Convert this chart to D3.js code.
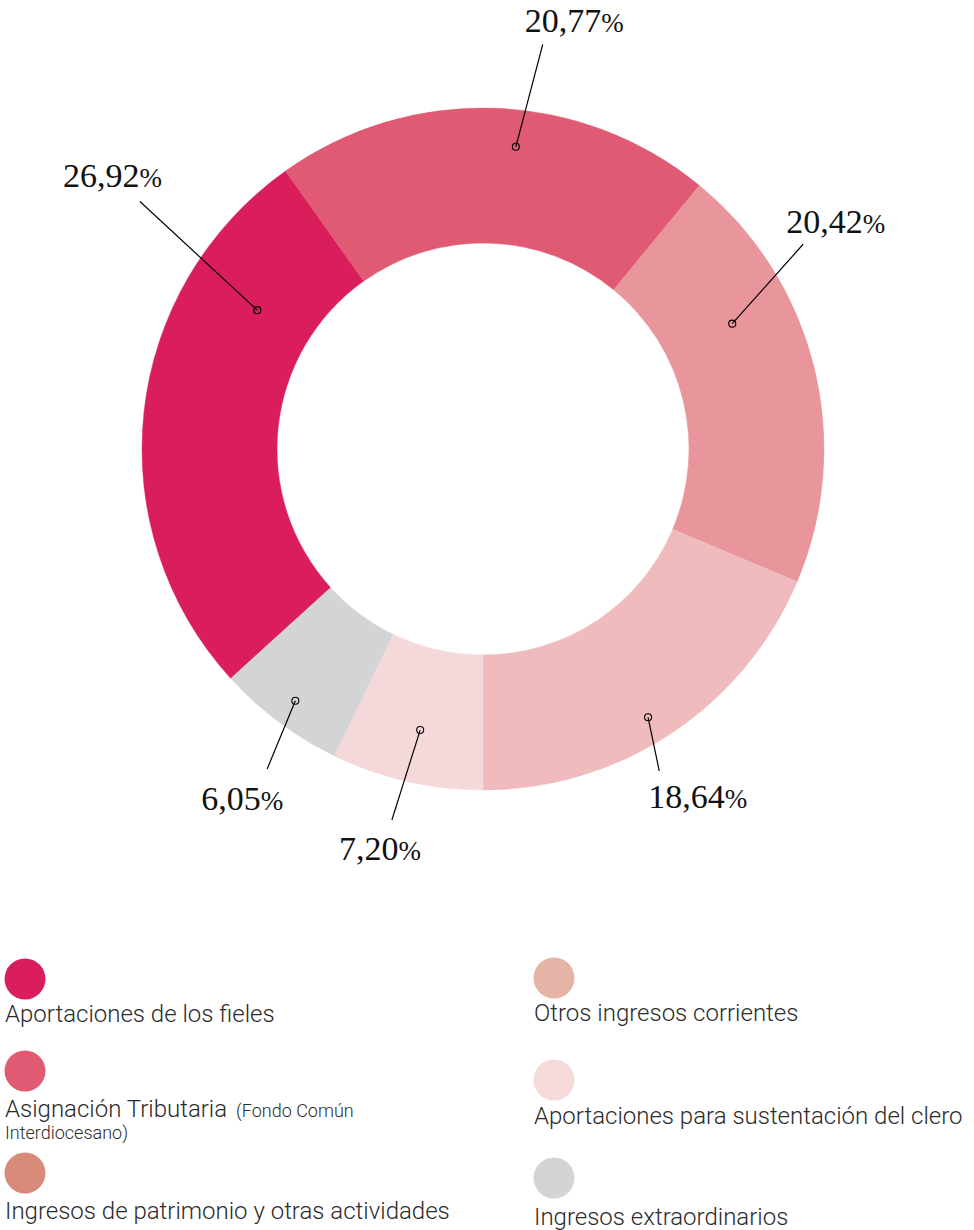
<!DOCTYPE html>
<html>
<head>
<meta charset="utf-8">
<script src="https://cdn.jsdelivr.net/npm/d3@7"></script>
<style>
  body { margin: 0; background: #fff; }
  .pct { font-family: "Liberation Serif", "DejaVu Serif", serif; fill: #111; }
  .legend text { font-family: Roboto, "Noto Sans", sans-serif; font-weight: 300; fill: #2b2b2b; }
</style>
</head>
<body>
<div id="chart"></div>
<script>
// categories in legend order
let categories = [
    "Aportaciones de los fieles",
    "Asignación Tributaria",
    "Ingresos de patrimonio y otras actividades",
    "Otros ingresos corrientes",
    "Aportaciones para sustentación del clero",
    "Ingresos extraordinarios"
];
let values = [26.92, 20.77, 20.42, 18.64, 7.20, 6.05];
let labels = ["26,92", "20,77", "20,42", "18,64", "7,20", "6,05"];
let sliceColors = ["#da1e5c", "#e05a73", "#e8959b", "#efbbbd", "#f5d9da", "#d3d4d6"];
let legendColors = ["#da1e5c", "#e05a73", "#d98b7a", "#e6b4a6", "#f6dadb", "#d3d4d6"];

class Donut {
    constructor() {
        this.width = 974;
        this.height = 1230;
        this.cx = 483;
        this.cy = 449;
        this.outerR = 341;
        this.innerR = 206;

        // leader-line layout per slice: dot angle/radius, end angle/radius, text offset
        this.leaders = [
            {dotA: 301.6, dotR: 265, endA: 305.8, endR: 423, dx: -77, dy: -15},
            {dotA: 6.2, dotR: 304, endA: 8.4, endR: 409, dx: -18, dy: -12},
            {dotA: 63.3, dotR: 279, endA: 57.4, endR: 380, dx: -17, dy: -11},
            {dotA: 148.4, dotR: 315, endA: 151.3, endR: 367, dx: -11, dy: 37},
            {dotA: 192.6, dotR: 288, endA: 193.8, endR: 382, dx: -53, dy: 40},
            {dotA: 216.7, dotR: 314, endA: 214.0, endR: 386, dx: -66, dy: 41}
        ];

        this.svg = d3.select("#chart").append("svg")
            .attr("width", this.width)
            .attr("height", this.height);
    }

    draw() {
        let total = d3.sum(values);
        // last two slices sit between 6 o'clock and the first one
        let start = Math.PI + 2 * Math.PI * (values[4] + values[5]) / total;

        let pie = d3.pie()
            .sort(null)
            .startAngle(start)
            .endAngle(start + 2 * Math.PI);

        let arc = d3.arc()
            .innerRadius(this.innerR)
            .outerRadius(this.outerR);

        let g = this.svg.append("g")
            .attr("transform", `translate(${this.cx},${this.cy})`);

        g.selectAll("path")
            .data(pie(values))
            .enter().append("path")
            .attr("d", arc)
            .attr("fill", (d, i) => sliceColors[i])
            .attr("stroke", (d, i) => sliceColors[i])
            .attr("stroke-width", 0.5);

        let rad = (deg) => deg * Math.PI / 180;
        let dotPt = (i) => d3.pointRadial(rad(this.leaders[i].dotA), this.leaders[i].dotR);
        let endPt = (i) => d3.pointRadial(rad(this.leaders[i].endA), this.leaders[i].endR);

        //LEADERS------------------------------------------------------------
        let lead = g.selectAll(".lead")
            .data(values)
            .enter().append("g")
            .attr("class", "lead");

        lead.append("line")
            .attr("x1", (d, i) => dotPt(i)[0])
            .attr("y1", (d, i) => dotPt(i)[1])
            .attr("x2", (d, i) => endPt(i)[0])
            .attr("y2", (d, i) => endPt(i)[1])
            .attr("stroke", "#000")
            .attr("stroke-width", 1.2);

        lead.append("circle")
            .attr("cx", (d, i) => dotPt(i)[0])
            .attr("cy", (d, i) => dotPt(i)[1])
            .attr("r", 3.5)
            .attr("fill", "none")
            .attr("stroke", "#000")
            .attr("stroke-width", 1.1);

        let txt = lead.append("text")
            .attr("class", "pct")
            .attr("x", (d, i) => endPt(i)[0] + this.leaders[i].dx)
            .attr("y", (d, i) => endPt(i)[1] + this.leaders[i].dy);

        txt.append("tspan")
            .style("font-size", "34px")
            .text((d, i) => labels[i]);
        txt.append("tspan")
            .style("font-size", "27px")
            .text("%");

        //LEGEND-------------------------------------------------------------
        let legendPos = [
            {x: 5, cy: 979, ty: 1022},
            {x: 5, cy: 1071, ty: 1117},
            {x: 5, cy: 1173, ty: 1219},
            {x: 534, cy: 978, ty: 1021},
            {x: 534, cy: 1080, ty: 1124},
            {x: 534, cy: 1178, ty: 1225}
        ];

        let leg = this.svg.append("g").attr("class", "legend")
            .selectAll("g")
            .data(categories)
            .enter().append("g");

        leg.append("circle")
            .attr("cx", (d, i) => legendPos[i].x + 20)
            .attr("cy", (d, i) => legendPos[i].cy)
            .attr("r", 20.5)
            .attr("fill", (d, i) => legendColors[i]);

        leg.append("text")
            .attr("x", (d, i) => legendPos[i].x)
            .attr("y", (d, i) => legendPos[i].ty)
            .style("font-size", "24px")
            .text(d => d);

        // the note after "Asignación Tributaria" wraps on two lines
        let note = this.svg.select(".legend").append("text")
            .attr("y", 1117)
            .style("font-size", "18px");
        note.append("tspan")
            .attr("x", 236)
            .text("(Fondo Común");
        note.append("tspan")
            .attr("x", 5)
            .attr("dy", 22)
            .text("Interdiocesano)");
    }
}

let chart = new Donut();
chart.draw();
</script>
</body>
</html>
